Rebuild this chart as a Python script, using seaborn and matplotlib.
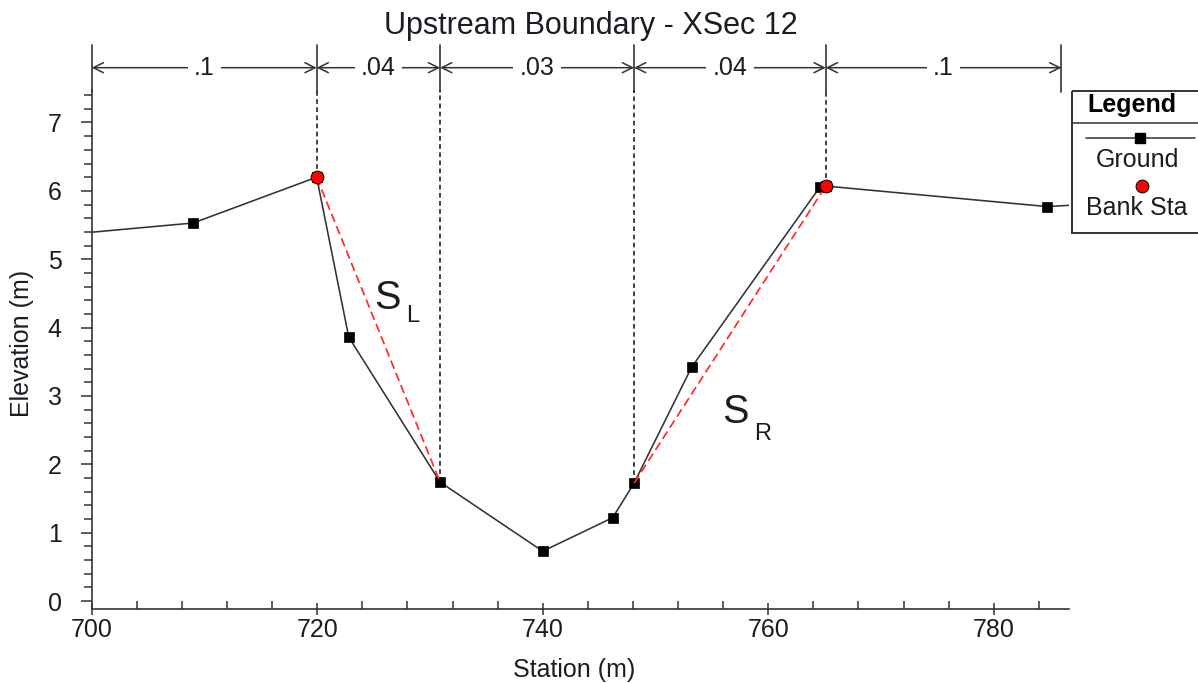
import numpy as np
import pandas as pd
import matplotlib
matplotlib.use("Agg")
import matplotlib.pyplot as plt
import seaborn as sns
from matplotlib.patches import Rectangle
from matplotlib.ticker import MultipleLocator

# ---------------- data ----------------
title = "Upstream Boundary - XSec 12"
x_label = "Station (m)"
y_label = "Elevation (m)"

ground_sta = [697.0, 709.0, 719.95, 722.8, 730.9, 740.0, 746.2, 748.1, 753.2, 764.6, 765.1, 784.75, 790.0]
ground_elev = [5.35, 5.53, 6.20, 3.86, 1.74, 0.73, 1.22, 1.725, 3.42, 6.06, 6.07, 5.77, 5.82]

bank_sta = [719.95, 765.1]
bank_elev = [6.20, 6.07]

n_break_sta = [700.0, 719.95, 730.9, 748.1, 765.1, 786.0]
n_values = [".1", ".04", ".03", ".04", ".1"]

x_ticks = [700, 720, 740, 760, 780]
y_ticks = [0, 1, 2, 3, 4, 5, 6, 7]
legend_title = "Legend"
legend_labels = ["Ground", "Bank Sta"]

# ---------------- style ----------------
sns.set_theme(style="white")
plt.rcParams["font.family"] = ["Liberation Sans", "DejaVu Sans"]
TXT = "#1c1c24"
DARK = "#333333"

W, H = 1198, 683
fig = plt.figure(figsize=(W / 100, H / 100), dpi=100)


def fx(px):
    return px / W


def fy(py):
    return 1 - py / H


ax_l, ax_r, ax_t, ax_b = 91.7, 1069.3, 90.0, 609.0
ax = fig.add_axes([fx(ax_l), fy(ax_b), (ax_r - ax_l) / W, (ax_b - ax_t) / H])
YTOP = 7.475
ax.set_xlim(700, 786.7)
ax.set_ylim(-0.115, YTOP)

df = pd.DataFrame({"Station": ground_sta, "Elevation": ground_elev})
sns.lineplot(data=df, x="Station", y="Elevation", ax=ax, sort=False, estimator=None,
             color="#333333", linewidth=1.15, marker="s", markersize=6.8,
             markerfacecolor="black", markeredgecolor="black", markeredgewidth=0.5,
             zorder=3)

# slope lines S_L and S_R
e = lambda s: float(np.interp(s, ground_sta, ground_elev))
sl = (n_break_sta[1], n_break_sta[2])
sr = (n_break_sta[3], n_break_sta[4])
for a, b in (sl, sr):
    ax.plot([a, b], [e(a), e(b)], color="#ff2a2a", lw=1.25, ls=(0, (5, 2.6)), zorder=4)

sns.scatterplot(x=bank_sta, y=bank_elev, ax=ax, color="#ff0000", edgecolor="black",
                linewidth=0.7, s=85, zorder=5, legend=False)

# vertical dashed n-value break lines
for s in n_break_sta[1:-1]:
    ax.plot([s, s], [e(s), YTOP], color=DARK, lw=1.3, ls=(0, (2.6, 1.9)), zorder=1,
            clip_on=False)

# top Manning's n dimension arrows
trans = ax.get_xaxis_transform()
y_arrow = (ax_b - 67.7) / (ax_b - ax_t)
y_mk0 = (ax_b - 92) / (ax_b - ax_t)
y_mk1 = (ax_b - 45) / (ax_b - ax_t)
for s in n_break_sta:
    ax.plot([s, s], [y_mk0, y_mk1], transform=trans, color=DARK, lw=1.2, clip_on=False)
for i, lab in enumerate(n_values):
    s0, s1 = n_break_sta[i], n_break_sta[i + 1]
    ax.annotate("", xy=(s1, y_arrow), xytext=(s0, y_arrow), xycoords=trans,
                textcoords=trans, annotation_clip=False,
                arrowprops=dict(arrowstyle="<->", color=DARK, lw=1.1, shrinkA=0,
                                shrinkB=0, mutation_scale=18))
    ax.text((s0 + s1) / 2, y_arrow, lab, transform=trans, ha="center", va="center",
            fontsize=18, color=TXT, zorder=6, clip_on=False,
            bbox=dict(boxstyle="square,pad=0.25", fc="white", ec="none"))

# S_L / S_R labels
ax.text(726.2, 4.43, "S", fontsize=28.5, ha="center", va="center", color=TXT)
ax.text(728.5, 4.17, "L", fontsize=17, ha="center", va="center", color=TXT)
ax.text(757.1, 2.76, "S", fontsize=28.5, ha="center", va="center", color=TXT)
ax.text(759.5, 2.44, "R", fontsize=17, ha="center", va="center", color=TXT)

# axes styling
for sp in ("top", "right"):
    ax.spines[sp].set_visible(False)
for sp in ("left", "bottom"):
    ax.spines[sp].set_color(DARK)
    ax.spines[sp].set_linewidth(1.2)
ax.set_xticks(x_ticks)
ax.set_yticks(y_ticks)
ax.xaxis.set_minor_locator(MultipleLocator(4))
ax.yaxis.set_minor_locator(MultipleLocator(0.2))
ax.tick_params(axis="x", which="major", direction="inout", length=8, width=1.1,
               color=DARK, labelsize=18, labelcolor=TXT, pad=2.4, bottom=True)
ax.tick_params(axis="x", which="minor", direction="in", length=5.8, width=1.1,
               color=DARK, bottom=True)
ax.tick_params(axis="y", which="major", direction="out", length=8, width=1.1,
               color=DARK, labelsize=18, labelcolor=TXT, pad=13.5, left=True)
ax.tick_params(axis="y", which="minor", direction="out", length=5.8, width=1.1,
               color=DARK, left=True)
ax.set_xticklabels([str(t) for t in x_ticks])
ax.set_yticklabels([str(t) for t in y_ticks])

ax.set_xlabel(x_label, fontsize=18, color=TXT, va="center")
ax.xaxis.set_label_coords((574 - ax_l) / (ax_r - ax_l), -(670 - ax_b) / (ax_b - ax_t))
ax.set_ylabel(y_label, fontsize=18, color=TXT, va="center")
ax.yaxis.set_label_coords((22.3 - ax_l) / (ax_r - ax_l), (ax_b - 343) / (ax_b - ax_t))

fig.text(fx(591), fy(26), title, ha="center", va="center", fontsize=22, color=TXT)

# custom legend box (pixel coordinates inside legend axes)
L0, L1, T0, B0 = 1072.3, 1215.0, 91.0, 232.7
lax = fig.add_axes([fx(L0), fy(B0), (L1 - L0) / W, (B0 - T0) / H])
lax.set_xlim(L0, L1)
lax.set_ylim(B0, T0)
lax.axis("off")
lax.add_patch(Rectangle((L0, T0), L1 - L0, B0 - T0, fill=False, ec=DARK, lw=1.4,
                        clip_on=False))
lax.plot([L0, L1], [123.3, 123.3], color=DARK, lw=1.1, clip_on=False)
lax.text(1132, 105, legend_title, fontsize=18, fontweight="bold", ha="center",
         va="center", color="black")
lax.plot([1086, 1195], [138.3, 138.3], color="#333333", lw=1.1, clip_on=False)
lax.plot([1140], [138.3], marker="s", markersize=6.8, color="black", clip_on=False)
lax.text(1137, 160, legend_labels[0], fontsize=18, ha="center", va="center", color=TXT)
lax.scatter([1141.7], [186], s=85, color="#ff0000", edgecolor="black", linewidth=0.7,
            clip_on=False, zorder=5)
lax.text(1137, 208, legend_labels[1], fontsize=18, ha="center", va="center", color=TXT)

fig.savefig("out.png", dpi=100, facecolor="white")
